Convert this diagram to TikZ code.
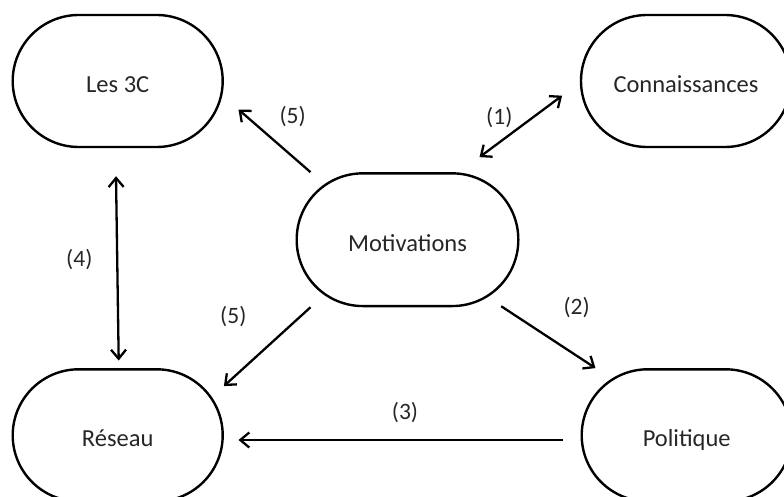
\documentclass[tikz,border=0pt]{standalone}
\usepackage{fontspec}
\setmainfont{Carlito}
\usetikzlibrary{arrows.meta}
\begin{document}
\begin{tikzpicture}[x=1pt,y=-1pt,
  box/.style={draw, line width=2.4pt, rounded corners=66pt, minimum width=210pt, minimum height=132pt, font=\fontsize{24.5}{28}\selectfont, text=black!85, text height=23pt, text depth=0pt},
  conn/.style={line width=2.3pt},
  tip/.style={-{Straight Barb[length=9pt,width=15pt]}},
  dtip/.style={{Straight Barb[length=9pt,width=15pt]}-{Straight Barb[length=9pt,width=15pt]}},
  lab/.style={font=\fontsize{23.5}{27}\selectfont, text=black!85}]
\useasboundingbox (0,0) rectangle (784,497);
\node[box] (c3) at (117.7,81) {Les 3C};
\node[box] (con) at (686,81) {Connaissances};
\node[box, minimum width=221.6pt, minimum height=132.7pt] (mot) at (407.5,239.7) {Motivations};
\node[box] (res) at (117.7,435.3) {Réseau};
\node[box] (pol) at (686.7,435.3) {Politique};
% connectors
\draw[conn,tip] ([shift={(15,0)}]mot.north west) -- ([shift={(14.6,-38.7)}]c3.south east);
\draw[conn,dtip] ([shift={(-40,-15)}]mot.north east) -- ([shift={(-17.7,14.7)}]con.west);
\draw[conn,dtip] ([shift={(-1.7,28)}]c3.south) -- ([shift={(1,-7.6)}]res.north);
\draw[conn,tip] ([shift={(15,0)}]mot.south west) -- ([shift={(0,18)}]res.north east);
\draw[conn,tip] ([shift={(-17.7,4.7)}]pol.west) -- ([shift={(14.6,4.7)}]res.east);
\draw[conn,tip] ([shift={(-18.3,-1)}]mot.south east) -- ([shift={(15,0)}]pol.north west);
% labels
\node[lab] (l5a) at (292.7,116.7) {(5)};
\node[lab] (l1) at (499.3,117.3) {(1)};
\node[lab] (l4) at (79.3,260) {(4)};
\node[lab] (l5b) at (233.3,316.7) {(5)};
\node[lab] (l3) at (405,413) {(3)};
\node[lab] (l2) at (576.7,307.3) {(2)};
\end{tikzpicture}
\end{document}
